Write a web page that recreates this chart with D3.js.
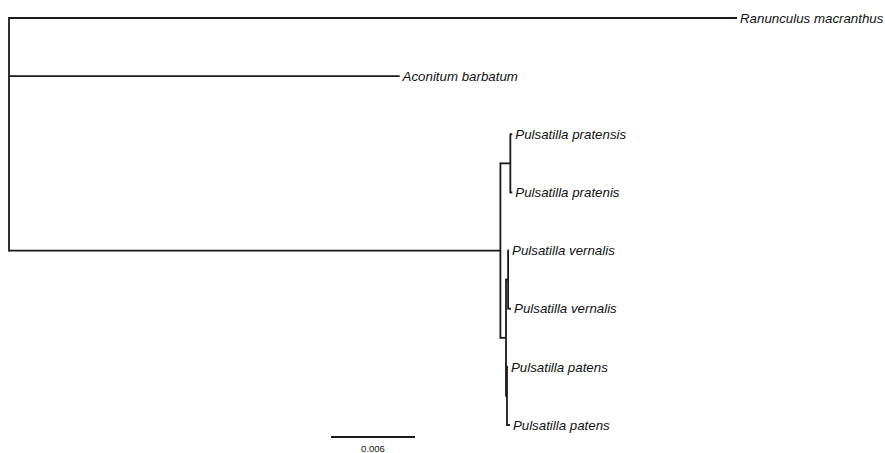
<!DOCTYPE html>
<html>
<head>
<meta charset="utf-8">
<script src="https://cdn.jsdelivr.net/npm/d3@7"></script>
<style>
	body { margin: 0; background: #fff; }
	.branch { fill: none; stroke: #1a1a1a; stroke-width: 1.8; }
	.tip { font-family: 'Liberation Sans', Arial, sans-serif; font-style: italic; font-size: 13.3px; fill: #111; }
	.scale-label { font-family: 'Liberation Sans', Arial, sans-serif; font-size: 9.5px; fill: #111; }
</style>
</head>
<body>
<script>
// data: tree as node table (id, parent, branch length)
var nodeIds = ['root', 'ran', 'aco', 'puls', 'prat', 'prat1', 'prat2', 'vp', 'vern', 'vern1', 'vern2', 'pat', 'pat1', 'pat2'];
var parentIds = ['', 'root', 'root', 'root', 'puls', 'prat', 'prat', 'puls', 'vp', 'vern', 'vern', 'vp', 'pat', 'pat'];
var branchLengths = [0, 0.052, 0.0279, 0.0351, 0.00071, 0.00014, 0.00014, 0.0004, 0.00015, 0.00007, 0.00021, 0.00007, 0.00007, 0.00021];
var tipLabels = {
	ran: 'Ranunculus macranthus',
	aco: 'Aconitum barbatum',
	prat1: 'Pulsatilla pratensis',
	prat2: 'Pulsatilla pratenis',
	vern1: 'Pulsatilla vernalis',
	vern2: 'Pulsatilla vernalis',
	pat1: 'Pulsatilla patens',
	pat2: 'Pulsatilla patens'
};
var scaleBarValue = 0.006;

var width = 885;
var height = 453;

var rows = nodeIds.map(function (id, i) {
	return { id: id, parent: parentIds[i] || null, len: branchLengths[i] };
});
var root = d3.stratify()
	.id(function (d) { return d.id; })
	.parentId(function (d) { return d.parent; })(rows);

// cumulative distance from root
root.eachBefore(function (n) {
	n.dist = n.parent ? n.parent.dist + n.data.len : 0;
});

var x = d3.scaleLinear().domain([0, 0.052]).range([9, 737]);
var leaves = root.leaves();
var y = d3.scalePoint()
	.domain(leaves.map(function (d) { return d.id; }))
	.range([18, 425]);

root.eachAfter(function (n) {
	n.py = n.children ? (n.children[0].py + n.children[n.children.length - 1].py) / 2 : y(n.id);
});

var svg = d3.select('body')
	.append('svg')
	.attr('width', width)
	.attr('height', height);

// horizontal branches
svg.append('g')
	.selectAll('line')
	.data(root.descendants().filter(function (d) { return d.parent; }))
	.join('line')
	.attr('class', 'branch')
	.attr('x1', function (d) { return x(d.parent.dist); })
	.attr('x2', function (d) { return x(d.dist); })
	.attr('y1', function (d) { return d.py; })
	.attr('y2', function (d) { return d.py; });

// vertical connectors
svg.append('g')
	.selectAll('line')
	.data(root.descendants().filter(function (d) { return d.children; }))
	.join('line')
	.attr('class', 'branch')
	.attr('x1', function (d) { return x(d.dist); })
	.attr('x2', function (d) { return x(d.dist); })
	.attr('y1', function (d) { return d.children[0].py - 0.9; })
	.attr('y2', function (d) { return d.children[d.children.length - 1].py + 0.9; });

// tip labels
svg.append('g')
	.selectAll('text')
	.data(leaves)
	.join('text')
	.attr('class', 'tip')
	.attr('x', function (d) { return x(d.dist) + 3; })
	.attr('y', function (d) { return d.py; })
	.attr('dy', '0.35em')
	.text(function (d) { return tipLabels[d.id]; });

// scale bar
var barX = 331;
svg.append('line')
	.attr('class', 'branch')
	.attr('x1', barX)
	.attr('x2', barX + x(scaleBarValue) - x(0))
	.attr('y1', 437)
	.attr('y2', 437);
svg.append('text')
	.attr('class', 'scale-label')
	.attr('x', barX + (x(scaleBarValue) - x(0)) / 2)
	.attr('y', 452)
	.attr('text-anchor', 'middle')
	.text(scaleBarValue);
</script>
</body>
</html>
